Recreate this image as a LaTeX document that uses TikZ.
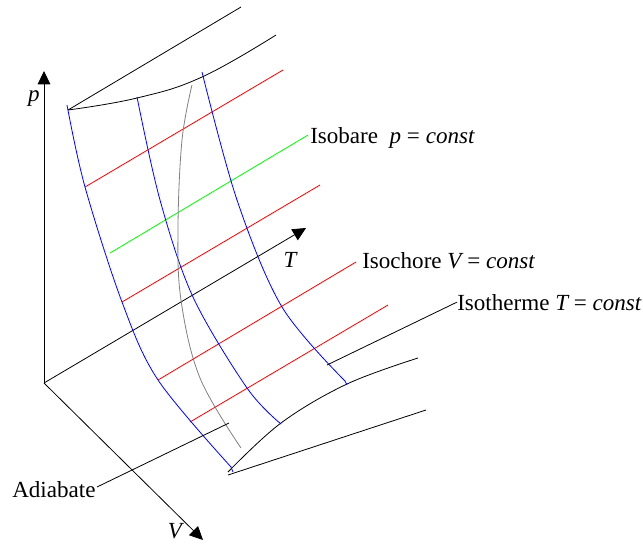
\documentclass[tikz,border=0pt]{standalone}
\usepackage{fontspec}
\setmainfont{Liberation Serif}
\usetikzlibrary{arrows.meta}
\begin{document}
\begin{tikzpicture}[x=0.75pt,y=-0.75pt,
  axis/.style={black,line width=0.6pt,-{Triangle[length=10pt,width=9.5pt]}},
  thin/.style={line width=0.6pt},
  isotherm/.style={thin,blue},
  isochor/.style={thin,red},
  isobar/.style={thin,green},
  adiab/.style={thin,gray},
  edge/.style={thin,black},
  lbl/.style={font=\fontsize{17.3pt}{20pt}\selectfont,inner sep=0pt},
]
\useasboundingbox (0,0) rectangle (643,544);
% axes
\coordinate (O) at (44,383);
\coordinate (Ptip) at (44,71);
\coordinate (Ttip) at (306,228);
\coordinate (Vtip) at (203,540);
\draw[axis] (O) -- (Ptip);
\draw[axis] (O) -- (Ttip);
\draw[axis] (O) -- (Vtip);
\node[lbl] (plab) at (34,99) {\itshape p};
\node[lbl] (tlab) at (290,260) {\itshape T};
\node[lbl] (vlab) at (175,531) {\itshape V};
% top boundary
\coordinate (A) at (68,110);
\coordinate (A1) at (241,7);
\draw[edge] (A) -- (A1);
\draw[edge] plot[smooth,tension=0.7] coordinates {(68,110) (137,98) (202,77) (276,35)};
% bottom boundary
\coordinate (B) at (228,475);
\coordinate (B1) at (426,410);
\draw[edge] (B) -- (B1);
\draw[edge] plot[smooth,tension=0.6] coordinates {(228,472) (281,423) (347,384) (418,358)};
% isochores / isobar
\coordinate (r1a) at (85,187);  \coordinate (r1b) at (283,70);
\coordinate (ga)  at (110,253); \coordinate (gb)  at (308,135);
\coordinate (r2a) at (122,302); \coordinate (r2b) at (320,185);
\coordinate (r3a) at (158,380); \coordinate (r3b) at (356,262);
\coordinate (r4a) at (190,422); \coordinate (r4b) at (388,305);
\draw[isochor] (r1a) -- (r1b);
\draw[isobar] (ga) -- (gb);
\draw[isochor] (r2a) -- (r2b);
\draw[isochor] (r3a) -- (r3b);
\draw[isochor] (r4a) -- (r4b);
% isotherms
\draw[isotherm] plot[smooth,tension=0.55] coordinates {(67,105) (85,187) (122,302) (158,380) (231,467)} -- (233,472);
\draw[isotherm] plot[smooth,tension=0.55] coordinates {(137,97) (160,200) (193,297) (247,388) (281,424)};
\draw[isotherm] plot[smooth,tension=0.55] coordinates {(202,72) (237,200) (282,307) (345,381)} -- (347,385);
% adiabate
\draw[adiab] plot[smooth,tension=0.6] coordinates {(192,85) (182,140) (178,227) (181,300) (200,378) (241,448)};
% labels
\node[lbl,anchor=base west] (isob) at (310,143) {Isobare~ \itshape p\upshape{} = \itshape const};
\node[lbl,anchor=base west] (isoc) at (362,268) {Isochore \itshape V\upshape{} = \itshape const};
\node[lbl,anchor=base west] (isot) at (457,310) {Isotherme \itshape T\upshape{} = \itshape const};
\node[lbl,anchor=base west] (adl) at (12,497) {Adiabate};
% leaders
\coordinate (tl) at (327,365);
\coordinate (al) at (229,423);
\draw[edge] (tl) -- (isot.west);
\draw[edge] (97,487) -- (al);
\end{tikzpicture}
\end{document}
